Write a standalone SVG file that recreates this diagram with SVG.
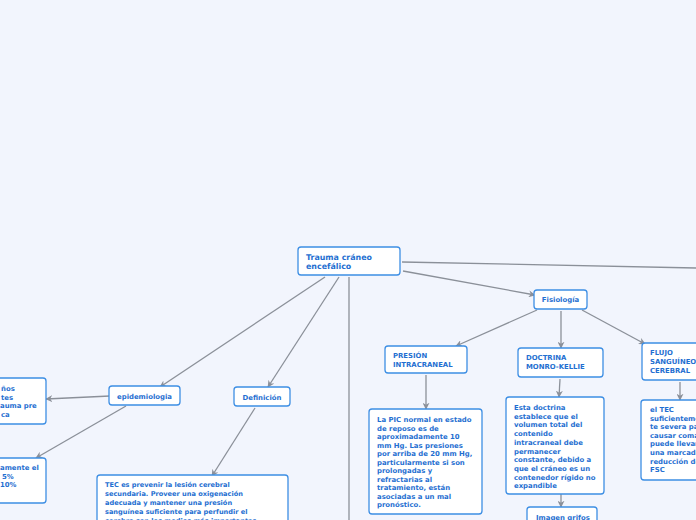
<svg xmlns="http://www.w3.org/2000/svg" width="696" height="520" viewBox="0 0 696 520">
<defs>
<style>
.bg{fill:#f2f5fd}
.n{fill:#ffffff;stroke:#3d8ee4;stroke-width:1.3}
.t{font-family:"DejaVu Sans",Verdana,sans-serif;font-weight:bold;font-size:6.9px;fill:#1f6fd1}
.big{font-size:7.9px}
.sm{font-size:6.6px}
.c{text-anchor:middle}
.e{fill:none;stroke:#8b9099;stroke-width:1.3}
</style>
<marker id="a" viewBox="0 0 10 10" refX="9" refY="5" markerWidth="7" markerHeight="7" markerUnits="userSpaceOnUse" orient="auto">
<path d="M0,0 L10,5 L0,10 L3,5 Z" fill="#8b9099"/>
</marker>
</defs>
<rect class="bg" x="0" y="0" width="696" height="520"/>
<g id="connectors">
<path class="e" d="M402,262 L696,268"/>
<path class="e" d="M403,271 L535,295" marker-end="url(#a)"/>
<path class="e" d="M349,277 L349,520"/>
<path class="e" d="M325,277 L160,387" marker-end="url(#a)"/>
<path class="e" d="M339,277 L268,387" marker-end="url(#a)"/>
<path class="e" d="M110,396 L46,399" marker-end="url(#a)"/>
<path class="e" d="M126,406 L36,458" marker-end="url(#a)"/>
<path class="e" d="M255,408 L212,476" marker-end="url(#a)"/>
<path class="e" d="M537,310 L456,346" marker-end="url(#a)"/>
<path class="e" d="M426,375 L426,409" marker-end="url(#a)"/>
<path class="e" d="M561,311 L561,348" marker-end="url(#a)"/>
<path class="e" d="M560,379 L559,397" marker-end="url(#a)"/>
<path class="e" d="M561,494 L561,507" marker-end="url(#a)"/>
<path class="e" d="M582,310 L645,344" marker-end="url(#a)"/>
<path class="e" d="M680,382 L680,400" marker-end="url(#a)"/>
</g>
<g id="trauma">
<rect class="n" x="298" y="247" width="102" height="28" rx="3"/>
<text class="t big" x="306" y="259.5">Trauma cráneo</text>
<text class="t big" x="306" y="268.5">encefálico</text>
</g>
<g id="fisiologia">
<rect class="n" x="534" y="290" width="53" height="19" rx="3"/>
<text class="t c" x="560.5" y="302">Fisiología</text>
</g>
<g id="epidemiologia">
<rect class="n" x="109" y="386" width="71" height="19" rx="3"/>
<text class="t c" x="144.5" y="398.5">epidemiologia</text>
</g>
<g id="epi1">
<rect class="n" x="-10" y="378" width="56" height="46" rx="3"/>
<text class="t" x="1" y="391">ños</text>
<text class="t" x="1" y="399.5">tes</text>
<text class="t" x="0" y="408">auma pre</text>
<text class="t" x="1" y="416.5">ca</text>
</g>
<g id="epi2">
<rect class="n" x="-10" y="458" width="56" height="45" rx="3"/>
<text class="t" x="0" y="470">amente el</text>
<text class="t" x="2" y="478.5">5%</text>
<text class="t" x="0" y="487">10%</text>
</g>
<g id="definicion">
<rect class="n" x="234" y="387" width="56" height="19" rx="3"/>
<text class="t c" x="262" y="399.5">Definición</text>
</g>
<g id="tec">
<rect class="n" x="97" y="475" width="191" height="60" rx="3"/>
<text class="t sm" x="105" y="487.3">TEC es prevenir la lesión cerebral</text>
<text class="t sm" x="105" y="496.3">secundaria. Proveer una oxigenación</text>
<text class="t sm" x="105" y="505.3">adecuada y mantener una presión</text>
<text class="t sm" x="105" y="514.3">sanguínea suficiente para perfundir el</text>
<text class="t sm" x="105" y="523.3">cerebro son los medios más importantes</text>
</g>
<g id="presion">
<rect class="n" x="385" y="346" width="82" height="27" rx="3"/>
<text class="t" x="393" y="358">PRESIÓN</text>
<text class="t" x="393" y="367">INTRACRANEAL</text>
</g>
<g id="pic">
<rect class="n" x="369" y="409" width="113" height="105" rx="3"/>
<text class="t" x="377" y="422">La PIC normal en estado</text>
<text class="t" x="377" y="430.5">de reposo es de</text>
<text class="t" x="377" y="439">aproximadamente 10</text>
<text class="t" x="377" y="447.5">mm Hg. Las presiones</text>
<text class="t" x="377" y="456">por arriba de 20 mm Hg,</text>
<text class="t" x="377" y="464.5">particularmente si son</text>
<text class="t" x="377" y="473">prolongadas y</text>
<text class="t" x="377" y="481.5">refractarias al</text>
<text class="t" x="377" y="490">tratamiento, están</text>
<text class="t" x="377" y="498.5">asociadas a un mal</text>
<text class="t" x="377" y="507">pronóstico.</text>
</g>
<g id="doctrina">
<rect class="n" x="518" y="348" width="85" height="29" rx="3"/>
<text class="t" x="526" y="360">DOCTRINA</text>
<text class="t" x="526" y="369">MONRO-KELLIE</text>
</g>
<g id="esta">
<rect class="n" x="506" y="397" width="98" height="97" rx="3"/>
<text class="t" x="514" y="410">Esta doctrina</text>
<text class="t" x="514" y="418.7">establece que el</text>
<text class="t" x="514" y="427.4">volumen total del</text>
<text class="t" x="514" y="436.1">contenido</text>
<text class="t" x="514" y="444.8">intracraneal debe</text>
<text class="t" x="514" y="453.5">permanecer</text>
<text class="t" x="514" y="462.2">constante, debido a</text>
<text class="t" x="514" y="470.9">que el cráneo es un</text>
<text class="t" x="514" y="479.6">contenedor rígido no</text>
<text class="t" x="514" y="488.3">expandible</text>
</g>
<g id="imagen">
<rect class="n" x="527" y="507" width="70" height="20" rx="3"/>
<text class="t" x="536" y="520">Imagen grifos</text>
</g>
<g id="flujo">
<rect class="n" x="642" y="343" width="60" height="37" rx="3"/>
<text class="t" x="650" y="355">FLUJO</text>
<text class="t" x="650" y="364">SANGUÍNEO</text>
<text class="t" x="650" y="372.5">CEREBRAL</text>
</g>
<g id="eltec">
<rect class="n" x="641" y="400" width="62" height="80" rx="3"/>
<text class="t" x="650" y="412">el TEC</text>
<text class="t" x="650" y="420.6">suficientemen</text>
<text class="t" x="650" y="429.2">te severa para</text>
<text class="t" x="650" y="437.8">causar coma</text>
<text class="t" x="650" y="446.4">puede llevar a</text>
<text class="t" x="650" y="455">una marcada</text>
<text class="t" x="650" y="463.6">reducción del</text>
<text class="t" x="650" y="472.2">FSC</text>
</g>
</svg>
